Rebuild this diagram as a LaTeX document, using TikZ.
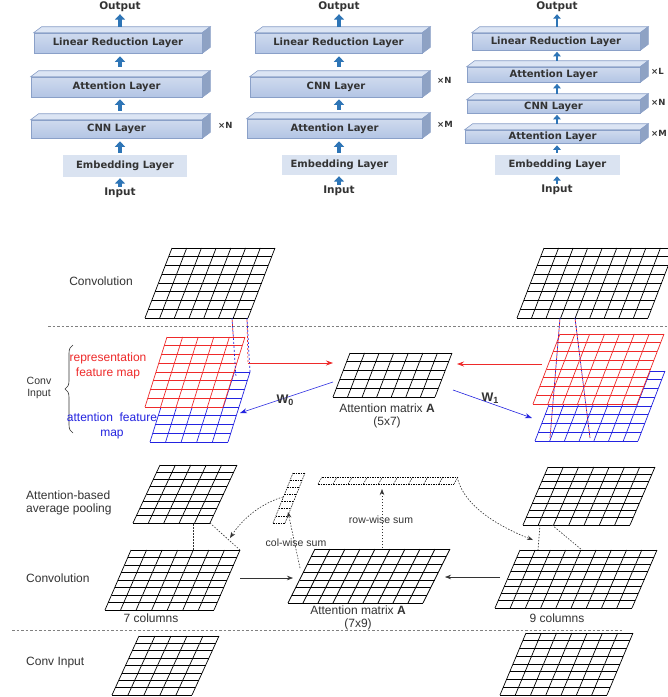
\documentclass[tikz,border=0pt]{standalone}
\usepackage{fontspec}
\setmainfont{Liberation Sans}
\newfontfamily\dejavu{DejaVu Sans}
\usetikzlibrary{arrows.meta,calc,decorations.pathreplacing}
\definecolor{arrblue}{HTML}{2E75B6}
\definecolor{frontA}{HTML}{CFDAEE}
\definecolor{frontB}{HTML}{B3C5E4}
\definecolor{edgeblue}{HTML}{8AA0C8}
\definecolor{topface}{HTML}{DCE5F4}
\definecolor{sideface}{HTML}{8EA2C4}
\definecolor{embfill}{HTML}{DAE3F1}
\definecolor{txtdark}{HTML}{333333}
\definecolor{mapred}{HTML}{EE2A2A}
\definecolor{mapblue}{HTML}{2323E0}
\tikzset{
 layerfront/.style={draw=edgeblue, line width=0.6pt, top color=frontA, bottom color=frontB, inner sep=0pt, font=\dejavu\bfseries\fontsize{10}{12}\selectfont, text=txtdark},
 layertopst/.style={draw=edgeblue, line width=0.6pt, fill=topface},
 layersidest/.style={draw=edgeblue, line width=0.6pt, fill=sideface},
 embedbox/.style={fill=embfill, inner sep=0pt, font=\dejavu\bfseries\fontsize{10}{12}\selectfont, text=txtdark},
 toplabel/.style={font=\dejavu\bfseries\fontsize{10.5}{12}\selectfont, text=txtdark, inner sep=1pt},
 mult/.style={font=\dejavu\bfseries\fontsize{8.5}{10}\selectfont, text=txtdark, inner sep=0pt, anchor=west},
 bigarrow/.style={line width=3.4pt, draw=arrblue, -{Triangle[width=10pt,length=5.5pt]}},
 smallarrow/.style={line width=2.6pt, draw=arrblue, -{Triangle[width=7.5pt,length=4.5pt]}},
 gridk/.style={line width=0.7pt, draw=black},
 gridr/.style={line width=0.7pt, draw=mapred},
 gridb/.style={line width=0.7pt, draw=mapblue},
 gridd/.style={line width=0.5pt, draw=black, dash pattern=on 1.5pt off 1pt},
 lab/.style={font=\fontsize{12}{14}\selectfont, text=txtdark, inner sep=1pt},
 smlab/.style={font=\fontsize{10.5}{12}\selectfont, text=txtdark, inner sep=1pt},
 wlab/.style={font=\bfseries\fontsize{12.5}{14}\selectfont, text=txtdark, inner sep=1pt},
 sepline/.style={draw=gray, line width=0.6pt, dash pattern=on 2.5pt off 2pt},
 dotarrow/.style={draw=txtdark, line width=0.6pt, dash pattern=on 1.5pt off 1.5pt, -{Stealth[length=6pt,width=4.5pt]}},
 dotline/.style={draw=txtdark, line width=0.6pt, dash pattern=on 1.5pt off 1.5pt},
 solidarrow/.style={draw=txtdark, line width=0.6pt, -{Stealth[length=6pt,width=4.5pt]}},
 redarrow/.style={draw=mapred, line width=0.8pt, -{Stealth[length=7pt,width=5pt]}},
 bluearrow/.style={draw=mapblue, line width=0.6pt, -{Stealth[length=7pt,width=5pt]}},
 pdashb/.style={draw=mapblue, line width=0.7pt, dash pattern=on 2pt off 2pt},
 pdashr/.style={draw=mapred, line width=0.7pt, dash pattern=on 2pt off 2pt, dash phase=2pt},
}
% grid: name, blx, bly, width, height, skew, cols, rows, style
\newcommand{\pgrid}[9]{%
  \coordinate (#1-bl) at (#2,#3);
  \coordinate (#1-br) at ({#2+#4},#3);
  \coordinate (#1-tl) at ({#2+#6},{#3-#5});
  \coordinate (#1-tr) at ({#2+#6+#4},{#3-#5});
  \fill[white] (#1-bl) -- (#1-br) -- (#1-tr) -- (#1-tl) -- cycle;
  \foreach \ii in {0,...,#7}{\draw[#9] ($(#1-bl)!\ii/#7!(#1-br)$) -- ($(#1-tl)!\ii/#7!(#1-tr)$);}
  \foreach \jj in {0,...,#8}{\draw[#9] ($(#1-bl)!\jj/#8!(#1-tl)$) -- ($(#1-br)!\jj/#8!(#1-tr)$);}
}
% layer box: name, x1, x2, ytop, ybot, text
\newcommand{\lyrbox}[6]{%
  \node[layerfront, minimum width={(#3-#2)*1pt}, minimum height={(#5-#4)*1pt}] (#1) at ({(#2+#3)/2},{(#4+#5)/2}) {#6};
  \draw[layertopst] (#1.north west) -- ++(8,-6) -- ($(#1.north east)+(8,-6)$) -- (#1.north east) -- cycle;
  \draw[layersidest] (#1.north east) -- ++(8,-6) -- ($(#1.south east)+(8,-6)$) -- (#1.south east) -- cycle;
}
\newcommand{\embbox}[6]{%
  \node[embedbox, minimum width={(#3-#2)*1pt}, minimum height={(#5-#4)*1pt}] (#1) at ({(#2+#3)/2},{(#4+#5)/2}) {#6};
}
\begin{document}
\begin{tikzpicture}[x=1pt,y=-1pt]
\useasboundingbox (0,0) rectangle (668,697);
\fill[white] (0,0) rectangle (668,697);

% ---------------- Top: three stacks ----------------
% Panel 1
\node[toplabel] (p1out) at (120,7) {Output};
\lyrbox{p1lrl}{34}{202}{33}{53}{Linear Reduction Layer}
\lyrbox{p1att}{31}{202}{77}{97}{Attention Layer}
\lyrbox{p1cnn}{31}{202}{120}{138}{CNN Layer}
\embbox{p1emb}{63}{187}{155}{177}{Embedding Layer}
\node[toplabel] (p1in) at (120,193) {Input};
\node[mult] (p1xn) at (218,125) {×N};
\draw[bigarrow, shorten <=6pt, shorten >=1pt] (p1out |- p1lrl.north) -- (p1out.south);
\draw[bigarrow, shorten <=10pt, shorten >=3pt] (p1out |- p1att.north) -- (p1out |- p1lrl.south);
\draw[bigarrow, shorten <=9pt, shorten >=2pt] (p1out |- p1cnn.north) -- (p1out |- p1att.south);
\draw[bigarrow, shorten <=2pt, shorten >=3pt] (p1out |- p1emb.north) -- (p1out |- p1cnn.south);
\draw[bigarrow, shorten <=0pt, shorten >=1pt] (p1in.north) -- (p1in |- p1emb.south);

% Panel 2
\node[toplabel] (p2out) at (339,7) {Output};
\lyrbox{p2lrl}{255}{422}{33}{53}{Linear Reduction Layer}
\lyrbox{p2cnn}{250}{422}{77}{97}{CNN Layer}
\lyrbox{p2att}{247}{422}{119}{138}{Attention Layer}
\embbox{p2emb}{282}{397}{155}{175}{Embedding Layer}
\node[toplabel] (p2in) at (339,191) {Input};
\node[mult] (p2xn) at (437,80) {×N};
\node[mult] (p2xm) at (437,124) {×M};
\draw[bigarrow, shorten <=6pt, shorten >=1pt] (p2out |- p2lrl.north) -- (p2out.south);
\draw[bigarrow, shorten <=10pt, shorten >=3pt] (p2out |- p2cnn.north) -- (p2out |- p2lrl.south);
\draw[bigarrow, shorten <=9pt, shorten >=2pt] (p2out |- p2att.north) -- (p2out |- p2cnn.south);
\draw[bigarrow, shorten <=2pt, shorten >=3pt] (p2out |- p2emb.north) -- (p2out |- p2att.south);
\draw[bigarrow, shorten <=0pt, shorten >=1pt] (p2in.north) -- (p2in |- p2emb.south);

% Panel 3
\node[toplabel] (p3out) at (557,7) {Output};
\lyrbox{p3lrl}{472}{640}{33}{50}{Linear Reduction Layer}
\lyrbox{p3atb}{467}{640}{67}{82}{Attention Layer}
\lyrbox{p3cnn}{467}{640}{100}{113}{CNN Layer}
\lyrbox{p3att}{465}{640}{130}{143}{Attention Layer}
\embbox{p3emb}{495}{620}{155}{175}{Embedding Layer}
\node[toplabel] (p3in) at (557,190) {Input};
\node[mult] (p3xl) at (651,71) {×L};
\node[mult] (p3xn) at (651,102) {×N};
\node[mult] (p3xm) at (651,133) {×M};
\draw[smallarrow, shorten <=6pt, shorten >=1pt] (p3out |- p3lrl.north) -- (p3out.south);
\draw[smallarrow, shorten <=6pt, shorten >=1.5pt] (p3out |- p3atb.north) -- (p3out |- p3lrl.south);
\draw[smallarrow, shorten <=6pt, shorten >=1.5pt] (p3out |- p3cnn.north) -- (p3out |- p3atb.south);
\draw[smallarrow, shorten <=6pt, shorten >=1.5pt] (p3out |- p3att.north) -- (p3out |- p3cnn.south);
\draw[smallarrow, shorten <=2pt, shorten >=2pt] (p3out |- p3emb.north) -- (p3out |- p3att.south);
\draw[smallarrow, shorten <=0pt, shorten >=1pt] (p3in.north) -- (p3in |- p3emb.south);

% ---------------- Middle: Conv with attention feature map ----------------
\pgrid{convL}{145}{318}{103}{70}{27}{7}{8}{gridk}
\pgrid{convR}{517}{318}{131}{70}{27}{9}{8}{gridk}
\coordinate (sepAl) at (48,326); \coordinate (sepAr) at (668,326);
\draw[sepline] (sepAl) -- (sepAr);

\pgrid{blueL}{150}{442}{78}{70}{22}{5}{8}{gridb}
\pgrid{redL}{145}{407}{78}{70}{22}{5}{8}{gridr}
\pgrid{blueR}{535}{441}{103}{70}{27}{7}{8}{gridb}
\pgrid{redR}{533}{404}{104}{70}{27}{7}{8}{gridr}
\pgrid{attA}{333}{397}{102}{44}{17}{7}{5}{gridk}

% receptive-field dashed lines
\coordinate (cLa) at (232,318); \coordinate (cLb) at (247,318);
\coordinate (fLa) at (236,377); \coordinate (fLb) at (248,363); \coordinate (fLc) at (250,372);
\draw[pdashb] (cLa) -- (fLa); \draw[pdashr] (cLa) -- ($(cLa)!0.35!(fLa)$);
\draw[pdashr] (cLb) -- (fLb); \draw[pdashb] (cLb) -- (fLc);
\coordinate (cRa) at (560,318); \coordinate (cRb) at (575,318);
\coordinate (fRa) at (550,438); \coordinate (fRb) at (590,438);
\draw[pdashb] (cRa) -- (fRa); \draw[pdashr] (cRa) -- (fRa);
\draw[pdashb] (cRb) -- (fRb); \draw[pdashr] (cRb) -- (fRb);

% arrows to / from attention matrix
\coordinate (rLe) at (333,363);
\draw[redarrow] (fLb) -- (rLe);
\coordinate (rRs) at (542,364); \coordinate (rRe) at (457,364);
\draw[redarrow] (rRs) -- (rRe);
\coordinate (w0s) at (333,382); \coordinate (w0e) at (240,413);
\draw[bluearrow] (w0s) -- (w0e);
\coordinate (w1s) at (453,390); \coordinate (w1e) at (532,418);
\draw[bluearrow] (w1s) -- (w1e);
\node[wlab] (w0) at (285,400) {W\raisebox{-0.35ex}{\fontsize{9}{10}\selectfont 0}};
\node[wlab] (w1) at (490,398) {W\raisebox{-0.35ex}{\fontsize{9}{10}\selectfont 1}};

% labels
\node[lab] (lconv1) at (101,281) {Convolution};
\node[lab, align=center, font=\fontsize{10.5}{12}\selectfont] (lcin) at (39,388) {Conv\\Input};
\coordinate (brB) at (73,433); \coordinate (brT) at (73,345);
\draw[decorate, decoration={brace, amplitude=8pt}, line width=0.6pt, draw=txtdark] (brB) -- (brT);
\node[lab, align=center, text=mapred, font=\fontsize{12}{15}\selectfont] (lrep) at (108,366) {representation\\feature map};
\node[lab, align=center, text=mapblue, font=\fontsize{12}{15}\selectfont] (latt) at (112,426) {attention~ feature\\map};
\node[lab, align=center, font=\fontsize{12}{13}\selectfont] (lA1) at (387,416) {Attention matrix \textbf{A}\\(5x7)};

% ---------------- Bottom: attention-based pooling ----------------
\pgrid{poolL}{133}{523}{77}{58}{27}{5}{8}{gridk}
\pgrid{convL2}{105}{610}{109}{60}{26}{7}{8}{gridk}
\pgrid{inL}{112}{695}{80}{59}{27}{5}{8}{gridk}
\pgrid{poolR}{523}{525}{107}{58}{25}{7}{8}{gridk}
\pgrid{convR2}{495}{608}{137}{58}{25}{9}{8}{gridk}
\pgrid{inR}{500}{695}{107}{62}{26}{7}{8}{gridk}
\pgrid{attB}{288}{603}{135}{54}{27}{9}{7}{gridk}
\pgrid{colS}{273}{523}{12}{50}{20}{1}{7}{gridd}
\pgrid{rowS}{318}{484}{136}{7}{4}{9}{1}{gridd}

\coordinate (sepBl) at (12,630); \coordinate (sepBr) at (623,630);
\draw[sepline] (sepBl) -- (sepBr);

% pooling links
\coordinate (pLa) at (193,524); \coordinate (pLb) at (193,550);
\draw[dotline] (pLa) -- (pLb);
\draw[dotline] (poolL-br) -- (convL2-tr);
\coordinate (pRa) at (540,525); \coordinate (pRb) at (538,550);
\coordinate (pRc) at (552,525); \coordinate (pRd) at (582,550);
\draw[dotline] (pRa) -- (pRb);
\draw[dotline] (pRc) -- (pRd);

% conv -> attention matrix
\coordinate (aLs) at (240,578); \coordinate (aLe) at (293,578);
\draw[solidarrow] (aLs) -- (aLe);
\coordinate (aRs) at (500,577); \coordinate (aRe) at (445,577);
\draw[solidarrow] (aRs) -- (aRe);

% sums
\coordinate (csS) at (300,568); \coordinate (csE) at (288,512);
\draw[dotarrow] (csS) -- (csE);
\coordinate (rsS) at (382,548); \coordinate (rsE) at (382,489);
\draw[dotarrow] (rsS) -- (rsE);
\coordinate (cvS) at (283,497); \coordinate (cvE) at (230,538);
\draw[dotarrow] (cvS) .. controls (262,503) and (243,518) .. (cvE);
\coordinate (rvS) at (458,480); \coordinate (rvE) at (533,540);
\draw[dotarrow] (rvS) .. controls (465,505) and (495,525) .. (rvE);

% labels
\node[lab, anchor=west, align=left, font=\fontsize{12}{13.5}\selectfont] (lpool) at (25,503) {Attention-based\\average pooling};
\node[lab, anchor=west] (lconv2) at (25,578) {Convolution};
\node[lab, anchor=west] (lcin2) at (25,663) {Conv Input};
\node[smlab] (lcol) at (296,543) {col-wise sum};
\node[smlab] (lrow) at (381,520) {row-wise sum};
\node[lab] (l7c) at (151,618) {7 columns};
\node[lab] (l9c) at (557,618) {9 columns};
\node[lab, align=center, font=\fontsize{12}{12.5}\selectfont] (lA2) at (358,618) {Attention matrix \textbf{A}\\(7x9)};
\end{tikzpicture}
\end{document}
